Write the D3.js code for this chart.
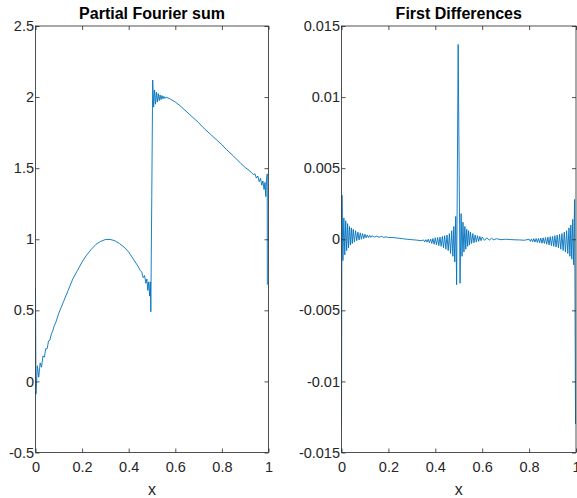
<!DOCTYPE html>
<html>
<head>
    <meta charset="utf-8" />
    <title>Partial Fourier sum</title>
    <style>
        body { margin: 0; background: #fff; }
        svg { display: block; }
        .tick text { font-family: "Liberation Sans", Arial, Helvetica, sans-serif; font-size: 14.5px; fill: #262626; }
        .tick line { stroke: #262626; stroke-width: 0.8px; }
        .frame { fill: none; stroke: #262626; stroke-width: 0.8px; }
        .title { font-family: "Liberation Sans", Arial, Helvetica, sans-serif; font-size: 16px; font-weight: bold; fill: #000; }
        .xlabel { font-family: "Liberation Sans", Arial, Helvetica, sans-serif; font-size: 16px; fill: #262626; }
        .curve { fill: none; stroke: #0072bd; stroke-width: 0.9px; }
    </style>
</head>
<body>
<svg width="577" height="498"></svg>
<script src="https://cdn.jsdelivr.net/npm/d3@7"></script>
<script>

    // partial Fourier sum (x, S)
    var sumX = [0.000, 0.002, 0.008, 0.014, 0.020, 0.026, 0.032, 0.038, 0.044, 0.050,
        0.056, 0.062, 0.068, 0.074, 0.080, 0.086, 0.092, 0.100, 0.12, 0.14,
        0.16, 0.18, 0.20, 0.22, 0.24, 0.26, 0.28, 0.30, 0.32, 0.34,
        0.36, 0.38, 0.40, 0.42, 0.44, 0.45, 0.456, 0.462, 0.468, 0.474,
        0.478, 0.482, 0.486, 0.490, 0.493, 0.495, 0.499, 0.503, 0.507, 0.511,
        0.515, 0.519, 0.523, 0.527, 0.531, 0.535, 0.539, 0.543, 0.547, 0.551,
        0.555, 0.56, 0.58, 0.60, 0.62, 0.65, 0.68, 0.70, 0.72, 0.75,
        0.78, 0.80, 0.82, 0.85, 0.88, 0.90, 0.92, 0.935, 0.942, 0.948,
        0.954, 0.960, 0.966, 0.971, 0.976, 0.981, 0.985, 0.9885, 0.991, 0.9945,
        0.995];
    var sumY = [0.66, -0.09, 0.11, 0.03, 0.13, 0.10, 0.18, 0.17, 0.23, 0.23,
        0.285, 0.29, 0.335, 0.355, 0.39, 0.41, 0.44, 0.48, 0.56, 0.64,
        0.72, 0.78, 0.84, 0.89, 0.93, 0.965, 0.985, 0.998, 0.999, 0.99,
        0.97, 0.945, 0.91, 0.86, 0.81, 0.78, 0.77, 0.73, 0.745, 0.69,
        0.72, 0.64, 0.70, 0.60, 0.70, 0.49, 1.30, 2.12, 1.93, 2.05,
        1.95, 2.035, 1.965, 2.025, 1.975, 2.015, 1.982, 2.01, 1.988, 2.005,
        1.99, 2.0, 1.985, 1.965, 1.94, 1.895, 1.85, 1.82, 1.785, 1.74,
        1.695, 1.665, 1.63, 1.585, 1.535, 1.505, 1.48, 1.455, 1.46, 1.43,
        1.445, 1.405, 1.43, 1.38, 1.41, 1.35, 1.40, 1.30, 1.41, 1.46,
        0.68];

    // first differences of the sum (x, dS)
    var diffX = [0.000, 0.002, 0.006, 0.010, 0.014, 0.018, 0.022, 0.026, 0.030, 0.034,
        0.038, 0.042, 0.046, 0.050, 0.055, 0.060, 0.065, 0.070, 0.075, 0.080,
        0.085, 0.090, 0.095, 0.100, 0.105, 0.110, 0.115, 0.120, 0.125, 0.130,
        0.140, 0.150, 0.160, 0.170, 0.180, 0.190, 0.200, 0.22, 0.24, 0.26,
        0.28, 0.30, 0.32, 0.34, 0.35, 0.355, 0.36, 0.365, 0.37, 0.375,
        0.38, 0.385, 0.39, 0.395, 0.40, 0.405, 0.41, 0.415, 0.42, 0.425,
        0.43, 0.435, 0.44, 0.445, 0.45, 0.455, 0.46, 0.465, 0.47, 0.475,
        0.479, 0.483, 0.487, 0.491, 0.4975, 0.5055, 0.510, 0.514, 0.518, 0.522,
        0.526, 0.530, 0.534, 0.538, 0.542, 0.546, 0.550, 0.555, 0.560, 0.565,
        0.570, 0.575, 0.580, 0.585, 0.590, 0.595, 0.600, 0.61, 0.62, 0.63,
        0.64, 0.65, 0.66, 0.68, 0.70, 0.72, 0.74, 0.76, 0.78, 0.80,
        0.805, 0.81, 0.815, 0.82, 0.825, 0.83, 0.835, 0.84, 0.845, 0.85,
        0.855, 0.86, 0.865, 0.87, 0.875, 0.88, 0.885, 0.89, 0.895, 0.90,
        0.905, 0.91, 0.915, 0.92, 0.925, 0.93, 0.935, 0.94, 0.945, 0.95,
        0.955, 0.96, 0.965, 0.97, 0.974, 0.978, 0.982, 0.986, 0.990, 0.994,
        0.998];
    var diffY = [-0.0131, 0.0031, -0.0015, 0.0015, -0.0011, 0.0013, -0.0008, 0.0011, -0.0006, 0.0009,
        -0.0004, 0.0008, -0.0003, 0.0007, -0.0002, 0.0006, -0.0001, 0.0005, -0.00005, 0.00045,
        0.0, 0.0004, 0.00005, 0.00035, 0.0001, 0.0003, 0.00012, 0.00028, 0.00013, 0.00025,
        0.00015, 0.00022, 0.00014, 0.0002, 0.00013, 0.00017, 0.00012, 0.00012, 0.00008, 0.00004,
        0.0, -0.00003, -0.00006, -0.0001, -0.00005, -0.00018, -0.00003, -0.0002, 0.0, -0.00025,
        0.00002, -0.0003, 0.00005, -0.00035, 0.0001, -0.0004, 0.00012, -0.00045, 0.00015, -0.0005,
        0.0002, -0.0006, 0.00025, -0.0007, 0.0003, -0.0008, 0.0004, -0.001, 0.0006, -0.0012,
        0.0009, -0.0016, 0.0016, -0.0032, 0.0137, -0.0031, 0.0018, -0.0012, 0.0012, -0.0009,
        0.0009, -0.0007, 0.0007, -0.0005, 0.0006, -0.0004, 0.0005, -0.0003, 0.0004, -0.00025,
        0.0003, -0.0002, 0.00025, -0.00015, 0.0002, -0.0001, 0.00015, -0.00008, 0.0001, -0.00006,
        0.00007, -0.00005, 0.00004, -0.00003, 0.0, -0.00002, -0.00004, -0.00005, -0.00007, 0.0,
        -0.00015, 0.00002, -0.00018, 0.00004, -0.0002, 0.00005, -0.00022, 0.00006, -0.00025, 0.00008,
        -0.00028, 0.0001, -0.0003, 0.00012, -0.00035, 0.00015, -0.0004, 0.00018, -0.00045, 0.0002,
        -0.0005, 0.00025, -0.00055, 0.0003, -0.0006, 0.00035, -0.0007, 0.0004, -0.0008, 0.0005,
        -0.0009, 0.0006, -0.001, 0.0008, -0.0012, 0.001, -0.0014, 0.0014, -0.0018, 0.0028,
        -0.013];

    var xTicks = [0, 0.2, 0.4, 0.6, 0.8, 1];
    var xTickLabels = ["0", "0.2", "0.4", "0.6", "0.8", "1"];
    var sumTicks = [-0.5, 0, 0.5, 1, 1.5, 2, 2.5];
    var sumTickLabels = ["-0.5", "0", "0.5", "1", "1.5", "2", "2.5"];
    var diffTicks = [-0.015, -0.01, -0.005, 0, 0.005, 0.01, 0.015];
    var diffTickLabels = ["-0.015", "-0.01", "-0.005", "0", "0.005", "0.01", "0.015"];

    var svg = d3.select("svg");

    function panel(id, box, xs, ys, yDomain, yTicks, yLabels, title) {
        var x = d3.scaleLinear().domain([0, 1]).range([box.left, box.right]);
        var y = d3.scaleLinear().domain(yDomain).range([box.bottom, box.top]);
        var g = svg.append("g");

        g.append("clipPath").attr("id", id)
            .append("rect")
            .attr("x", box.left).attr("y", box.top)
            .attr("width", box.right - box.left).attr("height", box.bottom - box.top);

        var pts = xs.map(function(v, i) { return [v, ys[i]]; });
        var line = d3.line()
            .x(function(d) { return x(d[0]); })
            .y(function(d) { return y(d[1]); });

        g.append("path")
            .datum(pts)
            .attr("class", "curve")
            .attr("clip-path", "url(#" + id + ")")
            .attr("d", line);

        var fmtX = function(d, i) { return xTickLabels[i]; };
        var fmtY = function(d, i) { return yLabels[i]; };

        g.append("g")
            .attr("transform", "translate(0," + box.bottom + ")")
            .call(d3.axisBottom(x).tickValues(xTicks).tickFormat(fmtX).tickSizeInner(-4).tickSizeOuter(0).tickPadding(9))
            .call(function(a) { a.select(".domain").remove(); });
        g.append("g")
            .attr("transform", "translate(0," + box.top + ")")
            .call(d3.axisTop(x).tickValues(xTicks).tickFormat("").tickSizeInner(-4).tickSizeOuter(0))
            .call(function(a) { a.select(".domain").remove(); });
        g.append("g")
            .attr("transform", "translate(" + box.left + ",0)")
            .call(d3.axisLeft(y).tickValues(yTicks).tickFormat(fmtY).tickSizeInner(-4).tickSizeOuter(0).tickPadding(1.5))
            .call(function(a) { a.select(".domain").remove(); });
        g.append("g")
            .attr("transform", "translate(" + box.right + ",0)")
            .call(d3.axisRight(y).tickValues(yTicks).tickFormat("").tickSizeInner(-4).tickSizeOuter(0))
            .call(function(a) { a.select(".domain").remove(); });

        g.selectAll(".tick text").attr("fill", "#262626");
        g.selectAll(".tick line").attr("stroke", "#262626");

        g.append("rect")
            .attr("class", "frame")
            .attr("x", box.left).attr("y", box.top)
            .attr("width", box.right - box.left).attr("height", box.bottom - box.top);

        g.append("text")
            .attr("class", "title")
            .attr("x", (box.left + box.right) / 2)
            .attr("y", 19)
            .attr("text-anchor", "middle")
            .text(title);

        g.append("text")
            .attr("class", "xlabel")
            .attr("x", (box.left + box.right) / 2)
            .attr("y", 495)
            .attr("text-anchor", "middle")
            .text("x");
    }

    panel("clipSum", {left: 35.5, right: 268.5, top: 26, bottom: 452.5},
        sumX, sumY, [-0.5, 2.5], sumTicks, sumTickLabels, "Partial Fourier sum");
    panel("clipDiff", {left: 341.5, right: 576, top: 26, bottom: 452.5},
        diffX, diffY, [-0.015, 0.015], diffTicks, diffTickLabels, "First Differences");

</script>
</body>
</html>
